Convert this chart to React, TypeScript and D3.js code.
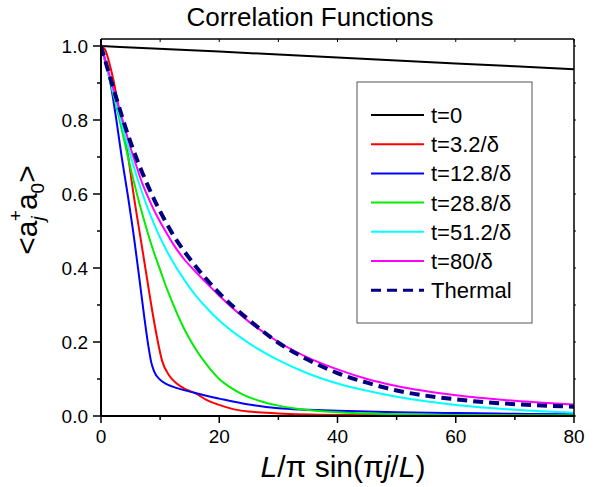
import * as React from "react"
import * as d3 from "d3"

// values: [x, <a_j^+ a_0>]
const t0 = [[0, 1.0], [20, 0.985], [40, 0.969], [60, 0.953], [80, 0.937]]
const t3_2 = [[0, 1], [0.7, 0.99], [1.4, 0.955], [2.1, 0.908], [2.8, 0.85], [3.5, 0.79], [4.6, 0.7], [5.5, 0.6], [6.8, 0.47], [7.5, 0.4], [8.5, 0.3], [9.5, 0.21], [10.3, 0.151], [11.5, 0.11], [12.8, 0.088], [14, 0.075], [16, 0.061], [18, 0.042], [20, 0.03], [22, 0.02], [25, 0.012], [30, 0.007], [40, 0.003], [50, 0.002], [80, 0.001]]
const t12_8 = [[0, 1], [0.5, 0.975], [1, 0.945], [1.6, 0.9], [2.6, 0.8], [3.5, 0.7], [4.5, 0.6], [5.6, 0.48], [6.5, 0.37], [7.3, 0.27], [8, 0.19], [8.5, 0.145], [9, 0.12], [10, 0.098], [11, 0.087], [12, 0.08], [14, 0.07], [16, 0.062], [18, 0.054], [20, 0.047], [25, 0.031], [30, 0.021], [35, 0.017], [40, 0.014], [50, 0.01], [60, 0.008], [70, 0.006], [80, 0.005]]
const t28_8 = [[0, 1], [1, 0.94], [2, 0.875], [3, 0.81], [4, 0.74], [5, 0.67], [6, 0.605], [7, 0.545], [8, 0.49], [9, 0.44], [10, 0.395], [11, 0.35], [12, 0.31], [13, 0.272], [14, 0.238], [15, 0.208], [16, 0.181], [18, 0.136], [20, 0.1], [22, 0.076], [24, 0.058], [27, 0.04], [30, 0.028], [35, 0.016], [40, 0.01], [50, 0.005], [60, 0.003], [70, 0.002], [80, 0.002]]
const t51_2 = [[0, 1], [1, 0.94], [2, 0.88], [3, 0.82], [4, 0.76], [5, 0.703], [6, 0.65], [7, 0.602], [8, 0.558], [9, 0.518], [10, 0.482], [11, 0.45], [12, 0.421], [14, 0.37], [16, 0.326], [18, 0.29], [20, 0.258], [25, 0.197], [30, 0.151], [35, 0.115], [40, 0.088], [45, 0.068], [50, 0.052], [60, 0.03], [70, 0.017], [80, 0.009]]
const t80 = [[0, 1], [1, 0.945], [2, 0.89], [3, 0.835], [4, 0.78], [5, 0.725], [6, 0.675], [7, 0.628], [8, 0.59], [9, 0.555], [10, 0.525], [11, 0.497], [12, 0.47], [14, 0.425], [16, 0.39], [18, 0.357], [20, 0.325], [25, 0.255], [30, 0.2], [35, 0.158], [40, 0.126], [45, 0.1], [50, 0.081], [60, 0.056], [70, 0.041], [80, 0.031]]
const thermal = [[0, 1], [1, 0.945], [2, 0.89], [3, 0.838], [4, 0.787], [5, 0.74], [6, 0.697], [7, 0.657], [8, 0.62], [9, 0.585], [10, 0.553], [11, 0.523], [12, 0.495], [14, 0.447], [16, 0.405], [18, 0.367], [20, 0.332], [25, 0.26], [30, 0.198], [35, 0.152], [40, 0.116], [45, 0.09], [50, 0.069], [60, 0.045], [70, 0.032], [80, 0.025]]

const seriesLabels = ["t=0", "t=3.2/δ", "t=12.8/δ", "t=28.8/δ", "t=51.2/δ", "t=80/δ", "Thermal"]
const seriesColors = ["#000000", "#ff0000", "#0000ff", "#00ee00", "#00ffff", "#ff00ff", "#000080"]
const seriesData = [t0, t3_2, t12_8, t28_8, t51_2, t80, thermal]

const xTicks = [0, 20, 40, 60, 80]
const yTicks = [0.0, 0.2, 0.4, 0.6, 0.8, 1.0]

const font = "'Liberation Sans', Arial, sans-serif"

export default function App() {
    const width = 594
    const height = 487
    const left = 101, right = 574, top = 39, bottom = 416

    const x = d3.scaleLinear().domain([0, 80]).range([left, right])
    const y = d3.scaleLinear().domain([0, 1]).range([bottom, 46])

    const line = d3.line()
        .x(d => x(d[0]))
        .y(d => y(d[1]))
        .curve(d3.curveMonotoneX)

    const minorX = d3.range(0, 81, 10)
    const minorY = d3.range(0, 11).map(i => i / 10)

    return (
        <svg width={width} height={height} style={{ position: "absolute", left: 0, top: 0 }} fontFamily={font}>
            <rect width={width} height={height} fill="#fff" />
            <text x={310} y={26} fontSize={26} textAnchor="middle">Correlation Functions</text>

            <defs>
                <clipPath id="plot">
                    <rect x={left} y={top} width={right - left} height={bottom - top} />
                </clipPath>
            </defs>

            <g clipPath="url(#plot)" fill="none">
                {seriesData.map((d, i) => (
                    <path key={i} d={line(d)} stroke={seriesColors[i]}
                        strokeWidth={i === 6 ? 4 : 2}
                        strokeDasharray={i === 6 ? "10,6" : undefined} />
                ))}
            </g>

            {/* frame */}
            <line x1={left} x2={right} y1={top} y2={top} stroke="#000" strokeWidth={1.5} />
            <line x1={right} x2={right} y1={top} y2={bottom} stroke="#000" strokeWidth={1.5} />
            <line x1={left} x2={right + 1} y1={bottom} y2={bottom} stroke="#000" strokeWidth={2} />
            <line x1={left} x2={left} y1={top} y2={bottom} stroke="#000" strokeWidth={2} />

            {/* x ticks */}
            {minorX.map(v => (
                <g key={"x" + v}>
                    <line x1={x(v)} x2={x(v)} y1={bottom} y2={bottom + (v % 20 === 0 ? 7 : 4)} stroke="#000" strokeWidth={1.5} />
                    <line x1={x(v)} x2={x(v)} y1={top} y2={top + 3} stroke="#000" strokeWidth={1} />
                </g>
            ))}
            {xTicks.map(v => (
                <text key={"xl" + v} x={x(v)} y={443} fontSize={19} textAnchor="middle">{v}</text>
            ))}

            {/* y ticks */}
            {minorY.map(v => (
                <g key={"y" + v}>
                    <line x1={left - (Math.round(v * 10) % 2 === 0 ? 8 : 4)} x2={left} y1={y(v)} y2={y(v)} stroke="#000" strokeWidth={1.5} />
                    <line x1={right} x2={right + 2} y1={y(v)} y2={y(v)} stroke="#000" strokeWidth={1} />
                </g>
            ))}
            {yTicks.map(v => (
                <text key={"yl" + v} x={88} y={y(v) + 7} fontSize={19} textAnchor="end">{v.toFixed(1)}</text>
            ))}

            {/* axis titles */}
            <text x={343} y={477} fontSize={30} textAnchor="middle">
                <tspan fontStyle="italic">L</tspan>/π sin(π<tspan fontStyle="italic">j</tspan>/<tspan fontStyle="italic">L</tspan>)
            </text>
            <text transform="translate(37,210) rotate(-90)" fontSize={30} textAnchor="middle">
                &lt;a<tspan fontSize={19} dy={7} fontStyle="italic">j</tspan><tspan fontSize={19} dx={-5} dy={-22}>+</tspan><tspan dy={15}>a</tspan><tspan fontSize={19} dy={7}>0</tspan><tspan dy={-7}>&gt;</tspan>
            </text>

            {/* legend */}
            <rect x={357} y={82} width={175} height={241} fill="#fff" stroke="#555" strokeWidth={1} />
            {seriesLabels.map((s, i) => {
                const ry = 115 + i * 29.2
                return (
                    <g key={s}>
                        <line x1={371} x2={424} y1={ry} y2={ry} stroke={seriesColors[i]}
                            strokeWidth={i === 6 ? 3 : 2}
                            strokeDasharray={i === 6 ? "10,6" : undefined} />
                        <text x={431} y={ry + 8} fontSize={22}>{s}</text>
                    </g>
                )
            })}
        </svg>
    )
}
